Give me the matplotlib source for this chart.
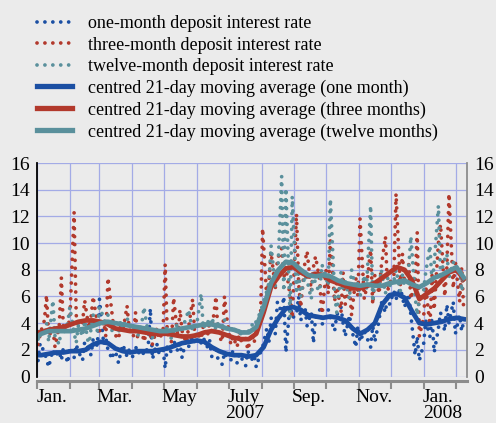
import numpy as np
import pandas as pd
import matplotlib
matplotlib.use("Agg")
import matplotlib.pyplot as plt
import matplotlib.dates as mdates
from matplotlib.lines import Line2D
from matplotlib.transforms import blended_transform_factory

# daily rates, one observation every second business day, 2 Jan 2007 - 8 Feb 2008
one_month = [
    1.2, 2.5, 1.8, 1.3, 0.7, 2.0, 1.5, 1.9, 1.2, 2.2, 1.0,        # Jan
    2.2, 1.4, 2.4, 1.9, 1.2, 2.6, 2.0, 1.6, 2.8, 2.3,             # Feb
    5.8, 2.4, 2.9, 2.0, 1.3, 2.2, 1.0, 1.8, 2.4, 1.5, 2.0,        # Mar
    1.4, 2.3, 1.7, 2.0, 1.6, 2.2, 5.1, 1.3, 2.5, 1.8, 2.1,        # Apr
    0.6, 2.3, 1.8, 2.7, 1.9, 2.5, 1.4, 2.9, 2.2, 3.0, 2.6,        # May
    3.4, 2.5, 2.9, 2.2, 2.7, 1.5, 2.3, 1.2, 0.9, 1.8, 1.5,        # Jun
    1.2, 2.0, 1.0, 1.7, 1.4, 0.8, 1.9, 1.3, 1.6, 0.7, 1.8,        # Jul
    2.2, 3.6, 2.6, 4.4, 3.2, 5.6, 4.8, 6.0, 1.8, 5.5, 4.4,        # Aug
    4.6, 6.0, 4.2, 5.2, 3.8, 4.8, 2.5, 4.4, 5.0, 3.9,             # Sep
    4.3, 5.0, 4.4, 3.4, 4.6, 5.2, 4.0, 3.0, 4.6, 3.6, 2.2, 3.8,   # Oct
    2.6, 3.4, 3.0, 2.2, 3.8, 2.6, 4.2, 5.6, 4.8, 6.2, 5.4,        # Nov
    6.4, 5.8, 6.6, 6.0, 5.2, 6.2, 4.6, 1.6, 3.0, 1.2,             # Dec
    2.4, 4.2, 3.0, 4.4, 1.8, 3.6, 4.8, 3.4, 5.4, 4.0, 5.6, 3.2,   # Jan 08
    4.6, 3.4, 4.2,                                                # Feb 08
]
three_month = [
    2.4, 3.2, 4.2, 6.1, 3.0, 3.6, 2.2, 3.8, 7.4, 3.4, 3.9,
    4.2, 12.3, 4.6, 3.8, 4.0, 5.7, 3.6, 4.4, 6.0, 3.9,
    3.4, 4.1, 3.0, 7.4, 4.6, 3.2, 2.8, 3.9, 3.3, 5.3, 3.6,
    3.0, 4.8, 2.9, 3.4, 2.6, 3.8, 3.2, 2.4, 3.6, 2.8, 3.3,
    8.4, 3.2, 2.6, 5.9, 2.9, 5.0, 3.4, 2.5, 3.6, 5.8, 3.0,
    3.3, 2.8, 3.8, 3.0, 4.2, 3.4, 6.0, 3.1, 2.6, 6.0, 4.5,
    2.4, 3.0, 2.2, 3.4, 2.6, 2.9, 2.0, 3.2, 2.5, 3.6, 4.2,
    11.1, 5.8, 7.2, 9.3, 6.6, 8.8, 9.6, 7.4, 8.2, 6.0, 4.4,
    12.2, 7.0, 5.2, 8.6, 9.4, 6.4, 8.2, 9.0, 7.2, 4.4,
    8.0, 6.2, 10.2, 5.6, 7.0, 4.8, 7.8, 5.4, 6.8, 4.6, 7.4, 6.0,
    11.8, 5.8, 6.6, 9.5, 5.4, 7.6, 6.2, 8.2, 10.5, 6.4, 7.0,
    7.6, 13.7, 6.8, 9.2, 7.0, 8.4, 5.8, 7.2, 10.8, 3.0,
    4.4, 6.8, 3.8, 7.6, 5.0, 10.0, 11.4, 6.0, 8.2, 13.7, 6.6, 8.6,
    5.6, 8.2, 4.8,
]
twelve_month = [
    2.8, 3.6, 3.1, 4.0, 2.6, 5.7, 3.0, 2.4, 3.8, 3.2, 4.0,
    5.2, 3.3, 2.5, 3.8, 3.0, 4.2, 2.2, 3.6, 4.6, 3.4,
    5.2, 4.4, 3.8, 4.6, 3.4, 4.0, 3.2, 4.2, 3.6, 4.4, 3.9,
    3.4, 3.8, 3.0, 4.0, 5.2, 3.2, 3.6, 2.9, 3.7, 3.3, 3.5,
    3.2, 3.8, 2.8, 3.4, 4.0, 3.0, 3.6, 4.4, 5.0, 3.4, 3.9,
    4.0, 6.2, 3.6, 4.2, 3.8, 4.4, 3.5, 4.0, 3.7, 4.3, 3.6,
    3.4, 3.8, 3.2, 3.6, 3.0, 3.5, 3.3, 3.9, 3.4, 4.2, 4.8,
    5.4, 6.4, 7.0, 9.8, 6.8, 7.0, 15.0, 6.4, 14.1, 4.4, 13.5,
    6.2, 8.0, 6.0, 7.6, 7.2, 5.8, 8.0, 6.8, 6.4, 8.4,
    7.4, 6.8, 13.3, 6.2, 4.8, 7.8, 6.4, 7.2, 5.8, 8.0, 6.6, 7.0,
    6.0, 7.6, 6.4, 12.8, 5.6, 7.2, 6.6, 8.0, 6.2, 7.4, 6.8,
    7.2, 8.0, 6.4, 7.6, 6.8, 8.2, 10.5, 6.0, 4.6, 5.8,
    6.4, 7.8, 9.8, 7.0, 8.4, 12.8, 7.6, 8.8, 9.2, 7.4, 8.6, 8.0,
    8.2, 6.4, 7.6,
]

# centred 21-day moving averages, read weekly (2 Jan, then each Friday)
ma_one = [
    1.6, 1.6, 1.7, 1.8, 1.8,
    1.9, 1.9, 2.0, 2.4,
    2.6, 2.5, 2.1, 1.9, 1.8,
    1.9, 1.9, 1.9, 2.0,
    2.1, 2.3, 2.5, 2.6,
    2.7, 2.6, 2.2, 1.9, 1.7,
    1.6, 1.6, 1.5, 1.6,
    2.2, 3.5, 4.4, 5.1, 5.2,
    5.0, 4.6, 4.5, 4.4,
    4.5, 4.4, 4.2, 3.6,
    3.2, 3.5, 4.0, 5.4, 6.1,
    6.2, 5.9, 4.9, 4.0,
    3.9, 4.0, 4.1, 4.3,
    4.4, 4.3,
]
ma_three = [
    3.3, 3.3, 3.5, 3.6, 3.7,
    3.9, 4.1, 4.2, 4.2,
    4.1, 3.9, 3.6, 3.5, 3.4,
    3.4, 3.3, 3.2, 3.2,
    3.2, 3.1, 3.0, 3.0,
    3.1, 3.3, 3.4, 3.3, 3.1,
    2.9, 2.8, 2.8, 3.2,
    4.8, 6.7, 7.5, 8.1, 8.2,
    7.8, 7.5, 7.7, 7.6,
    7.2, 7.0, 6.8, 6.6,
    6.6, 6.8, 7.0, 7.4, 7.8,
    8.2, 8.0, 7.2, 5.8,
    6.2, 6.6, 7.2, 7.8,
    8.0, 7.3,
]
ma_twelve = [
    3.0, 3.2, 3.4, 3.4, 3.4,
    3.4, 3.5, 3.6, 3.8,
    4.0, 4.1, 4.0, 3.9, 3.8,
    3.7, 3.6, 3.5, 3.4,
    3.4, 3.5, 3.6, 3.7,
    3.8, 3.9, 3.9, 3.8, 3.6,
    3.5, 3.3, 3.3, 3.7,
    5.2, 7.0, 8.0, 8.6, 8.5,
    8.0, 7.6, 7.5, 7.6,
    7.5, 7.2, 7.0, 6.9,
    6.8, 6.9, 6.8, 6.8, 7.0,
    7.1, 7.2, 6.9, 6.7,
    7.0, 7.4, 7.6, 7.9,
    8.2, 7.4,
]

labels_raw = ["one-month deposit interest rate",
              "three-month deposit interest rate",
              "twelve-month deposit interest rate"]
labels_ma = ["centred 21-day moving average (one month)",
             "centred 21-day moving average (three months)",
             "centred 21-day moving average (twelve months)"]
colors = ["#1b4fa3", "#b2392c", "#5a909c"]

dates = pd.bdate_range("2007-01-02", "2008-02-11")[::2][:len(one_month)]
ma_dates = pd.DatetimeIndex([pd.Timestamp("2007-01-02")]).append(
    pd.date_range("2007-01-05", "2008-02-08", freq="W-FRI"))

bg = "#ebebeb"
plt.rcParams["font.family"] = ["Liberation Serif", "DejaVu Serif"]

fig = plt.figure(figsize=(4.96, 4.23), dpi=100, facecolor=bg)
ax = fig.add_axes([37 / 496, 1 - 376.5 / 423, 430 / 496, 213.5 / 423])
ax.set_facecolor(bg)

dots = (0, (0.01, 2.1))
for vals, c in zip([one_month, three_month, twelve_month], colors):
    ax.plot(dates, vals, color=c, lw=2.7, linestyle=dots, dash_capstyle="round")
for vals, c in zip([ma_one, ma_three, ma_twelve], colors):
    ax.plot(ma_dates, vals, color=c, lw=3.4, solid_joinstyle="round")

ax.set_xlim(pd.Timestamp("2007-01-01"), pd.Timestamp("2008-02-11"))
ax.set_ylim(0, 16)
ax.set_yticks(range(0, 17, 2))
ax.grid(True, color="#a3abe6", lw=0.9)
ax.set_axisbelow(True)

ax.xaxis.set_major_locator(mdates.MonthLocator())
ax.xaxis.set_major_formatter(plt.NullFormatter())
ax.xaxis.set_minor_locator(mdates.MonthLocator(bymonth=[1, 3, 5, 7, 9, 11], bymonthday=15))
mfmt = {1: "Jan.", 3: "Mar.", 5: "May", 7: "July", 9: "Sep.", 11: "Nov."}
ax.xaxis.set_minor_formatter(plt.FuncFormatter(lambda v, p: mfmt[mdates.num2date(v).month]))
ax.tick_params(axis="x", which="major", length=6, width=1.5, color="#8c8c8c", direction="out")
ax.tick_params(axis="x", which="minor", length=0, labelsize=14, pad=6)
ax.tick_params(axis="y", which="both", length=0, labelsize=14, labelright=True, pad=5)

ax.spines["top"].set_visible(False)
ax.spines["left"].set_color("black")
ax.spines["left"].set_linewidth(1.3)
ax.spines["right"].set_color("#8c8c8c")
ax.spines["right"].set_linewidth(1.3)
ax.spines["bottom"].set_color("#8c8c8c")
ax.spines["bottom"].set_linewidth(2.2)
ax.spines["bottom"].set_position(("outward", 3))

tr = blended_transform_factory(ax.transData, fig.transFigure)
ax.text(pd.Timestamp("2007-07-16"), 1 - 413 / 423, "2007", transform=tr,
        ha="center", va="center", fontsize=14)
ax.text(pd.Timestamp("2008-01-19"), 1 - 413 / 423, "2008", transform=tr,
        ha="center", va="center", fontsize=14)

handles = [Line2D([], [], color=c, lw=2.7, linestyle=dots,
                  dash_capstyle="round") for c in colors]
handles += [Line2D([], [], color=c, lw=3.8) for c in colors]
fig.legend(handles, labels_raw + labels_ma, loc="upper left",
           bbox_to_anchor=(37 / 496, 1 - 15 / 423), frameon=False,
           fontsize=13, handlelength=1.95, handletextpad=0.85,
           labelspacing=0.25, borderpad=0, borderaxespad=0)

fig.savefig("out.png", dpi=100, facecolor=bg)
